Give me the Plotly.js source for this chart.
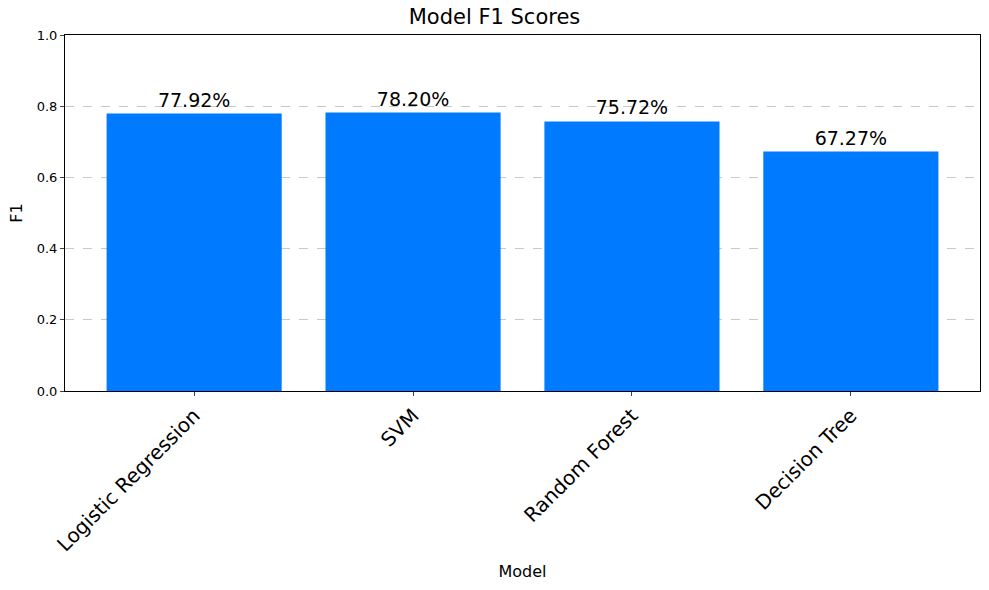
<!DOCTYPE html>
<html>
<head>
<meta charset="utf-8">
<script src="https://cdn.plot.ly/plotly-3.0.1.min.js"></script>
<style>body{margin:0;background:#fff}#chart{width:989px;height:590px}</style>
</head>
<body>
<div id="chart"></div>
<script>
// chart data
const models = ['Logistic Regression', 'SVM', 'Random Forest', 'Decision Tree'];
const f1Scores = [0.7792, 0.7820, 0.7572, 0.6727];
const f1Labels = ['77.92%', '78.20%', '75.72%', '67.27%'];

const font = 'DejaVu Sans, sans-serif';

const data = [{
  type: 'bar',
  x: [0, 1, 2, 3],
  y: f1Scores,
  width: 0.8,
  marker: { color: '#007bff' },
  text: f1Labels,
  textposition: 'outside',
  textfont: { size: 19, color: '#000', family: font },
  cliponaxis: false,
  hoverinfo: 'x+y'
}];

const layout = {
  width: 989, height: 590,
  margin: { l: 65, r: 9, t: 35, b: 199 },
  paper_bgcolor: '#fff', plot_bgcolor: '#fff',
  font: { family: font, color: '#000', size: 13 },
  title: { text: 'Model F1 Scores', font: { size: 21 }, x: 0.5, xanchor: 'center', y: 0.985, yanchor: 'top' },
  bargap: 0.2,
  xaxis: {
    range: [-0.59, 3.59],
    tickvals: [0, 1, 2, 3],
    ticktext: models,
    tickangle: -45,
    tickfont: { size: 20 },
    ticks: 'outside', ticklen: 4,
    showline: true, mirror: true, linecolor: '#000', linewidth: 1,
    showgrid: false, zeroline: false,
    title: { text: 'Model', font: { size: 16 }, standoff: 10 }
  },
  yaxis: {
    range: [0, 1],
    dtick: 0.2,
    tickformat: '.1f',
    tickfont: { size: 13 },
    ticks: 'outside', ticklen: 4,
    showline: true, mirror: true, linecolor: '#000', linewidth: 1,
    showgrid: true, gridcolor: '#c8c8c8', griddash: 'dash',
    zeroline: false,
    title: { text: 'F1', font: { size: 16 }, standoff: 10 }
  },
  showlegend: false
};

Plotly.newPlot('chart', data, layout, { displayModeBar: false, staticPlot: true });
</script>
</body>
</html>
